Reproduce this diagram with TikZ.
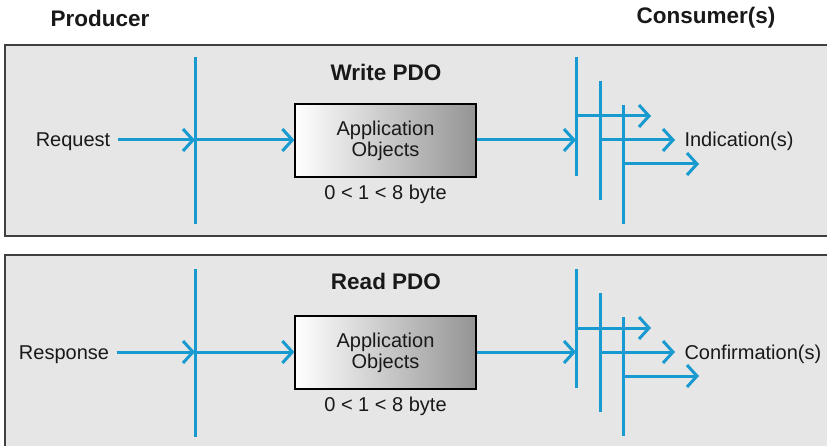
\documentclass[tikz,border=0pt]{standalone}
\usepackage{fontspec}
\setmainfont{Liberation Sans}
\usetikzlibrary{arrows.meta,positioning}
\definecolor{pdoblue}{RGB}{22,154,208}
\definecolor{panelgray}{RGB}{230,230,230}
\definecolor{panelrim}{RGB}{64,64,64}

\tikzset{
  panel/.style={fill=panelgray,draw=panelrim,line width=2pt},
  bus/.style={draw=pdoblue,line width=3pt},
  flow/.style={color=pdoblue,line width=3pt,-{Straight Barb[length=10pt,width=22pt]}},
  appbox/.style={draw=black,line width=1.2pt,left color=white,middle color=black!6,right color=black!42,
                 minimum width=181pt,minimum height=73pt,align=center,font=\fontsize{20}{21}\selectfont},
  head/.style={font=\bfseries\fontsize{22.5}{26}\selectfont}
}

\begin{document}
\begin{tikzpicture}[x=1pt,y=-1pt,node distance=4pt,font=\fontsize{20}{20}\selectfont,text=black!90]
    \useasboundingbox (0,0) rectangle (827,446);
    \clip (0,0) rectangle (827,446);

    \node[head] (prod) at (100,18) {Producer};
    \node[head] (cons) at (706,18) {Consumer(s)};

    % write
    \path[panel] (5,45) rectangle (845,236);
    \node[head] (wtitle) at (386,72) {Write PDO};
    \node[appbox] (wbox) at (385.5,140.5) {Application\\Objects};
    \node (wsize) [below=of wbox] {0 < 1 < 8 byte};
    \node[anchor=base] (wreq) at (73,147) {Request};
    \node[anchor=base west] (wind) at (681,147) {Indication(s)};

    \coordinate (wp) at (195,140);
    \coordinate (wc1) at (576,140);
    \coordinate (wc2) at (600,140);
    \coordinate (wc3) at (623,140);
    \coordinate (wo1) at (651,116);
    \coordinate (wo2) at (675,140);
    \coordinate (wo3) at (699,164);

    \draw[bus] ([yshift=83pt]wp) -- ([yshift=-84pt]wp);
    \draw[bus] ([yshift=83pt]wc1) -- ([yshift=-36pt]wc1);
    \draw[bus] ([yshift=59pt]wc2) -- ([yshift=-60pt]wc2);
    \draw[bus] ([yshift=35pt]wc3) -- ([yshift=-84pt]wc3);

    \path[flow]
    ([xshift=4pt]wreq.east |- wp) edge (wp)
    (wp)   edge (wbox.west |- wp)
    (wbox.east |- wc1) edge (wc1)
    (wc1 |- wo1) edge (wo1)
    (wc2 |- wo2) edge (wo2)
    (wc3 |- wo3) edge (wo3);

    % read
    \path[panel] (5,255) rectangle (845,470);
    \node[head] (rtitle) at (386,281) {Read PDO};
    \node[appbox] (rbox) at (385.5,352.5) {Application\\Objects};
    \node (rsize) [below=of rbox] {0 < 1 < 8 byte};
    \node[anchor=base] (rresp) at (64,359) {Response};
    \node[anchor=base west] (rconf) at (681,359) {Confirmation(s)};

    \coordinate (rp) at (195,352);
    \coordinate (rc1) at (576,352);
    \coordinate (rc2) at (600,352);
    \coordinate (rc3) at (623,352);
    \coordinate (ro1) at (651,328);
    \coordinate (ro2) at (675,352);
    \coordinate (ro3) at (699,376);

    \draw[bus] ([yshift=83pt]rp) -- ([yshift=-85pt]rp);
    \draw[bus] ([yshift=83pt]rc1) -- ([yshift=-36pt]rc1);
    \draw[bus] ([yshift=59pt]rc2) -- ([yshift=-60pt]rc2);
    \draw[bus] ([yshift=35pt]rc3) -- ([yshift=-84pt]rc3);

    \path[flow]
    ([xshift=4pt]rresp.east |- rp) edge (rp)
    (rp)    edge (rbox.west |- rp)
    (rbox.east |- rc1)  edge (rc1)
    (rc1 |- ro1) edge (ro1)
    (rc2 |- ro2) edge (ro2)
    (rc3 |- ro3) edge (ro3);
\end{tikzpicture}
\end{document}
